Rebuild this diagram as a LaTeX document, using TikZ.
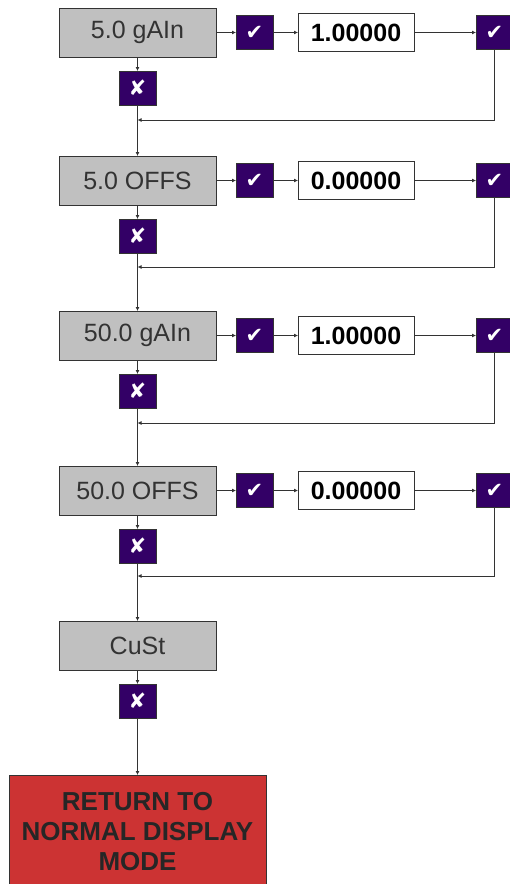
\documentclass[tikz,border=0pt]{standalone}
\usepackage{fontspec}
\setmainfont{Liberation Sans}
\newfontfamily\symfont{DejaVu Sans}
\usetikzlibrary{positioning, arrows.meta}
\definecolor{btn}{HTML}{330066}
\definecolor{lcd}{HTML}{C0C0C0}
\definecolor{edge}{HTML}{333333}
\definecolor{alert}{HTML}{CC3333}

\begin{document}
\begin{tikzpicture}[
    gt/.style={rectangle, draw=edge, line width=1pt, outer sep=0pt, fill=lcd, minimum width=157pt, minimum height=49pt, inner sep=0pt, text=edge, font=\fontsize{25}{29}\selectfont},
    key/.style={rectangle, draw=edge, line width=1pt, outer sep=0pt, fill=btn, minimum width=37pt, minimum height=34pt, inner sep=0pt, text=white, font=\symfont\fontsize{21}{21}\selectfont},
    val/.style={rectangle, draw=edge, line width=1pt, outer sep=0pt, fill=white, minimum width=116pt, minimum height=38pt, inner sep=0pt, font=\bfseries\fontsize{25}{29}\selectfont},
    ret/.style={rectangle, draw=edge, line width=1pt, outer sep=0pt, fill=alert, minimum width=257pt, minimum height=113pt, inner sep=0pt, align=center, text=black!85, font=\bfseries\fontsize{26}{30}\selectfont},
    arr/.style={draw=edge, line width=1pt, -{Latex[length=4pt,width=4pt]}},
    ]
    \useasboundingbox (0,0) rectangle (509pt,-884pt);
    % Row 1: 5.0 gain
    \node[gt] (g1) at (137.5pt,-32.5pt) {5.0 gAIn};
    \node[key, right=20pt of g1] (k1) {✔};
    \node[val, right=25pt of k1] (v1) {1.00000};
    \node[key, right=62pt of v1] (e1) {✔};
    \node[key, below=14pt of g1] (x1) {✘};
    \coordinate[below=15pt of x1] (j1);
    % Row 2: 5.0 offset
    \node[gt, below=51pt of x1] (g2) {5.0 OFFS};
    \node[key, right=20pt of g2] (k2) {✔};
    \node[val, right=25pt of k2] (v2) {0.00000};
    \node[key, right=62pt of v2] (e2) {✔};
    \node[key, below=14pt of g2] (x2) {✘};
    \coordinate[below=14pt of x2] (j2);
    % Row 3: 50.0 gain
    \node[gt, below=58pt of x2] (g3) {50.0 gAIn};
    \node[key, right=20pt of g3] (k3) {✔};
    \node[val, right=25pt of k3] (v3) {1.00000};
    \node[key, right=62pt of v3] (e3) {✔};
    \node[key, below=14pt of g3] (x3) {✘};
    \coordinate[below=15pt of x3] (j3);
    % Row 4: 50.0 offset
    \node[gt, below=58pt of x3] (g4) {50.0 OFFS};
    \node[key, right=20pt of g4] (k4) {✔};
    \node[val, right=25pt of k4] (v4) {0.00000};
    \node[key, right=62pt of v4] (e4) {✔};
    \node[key, below=14pt of g4] (x4) {✘};
    \coordinate[below=13pt of x4] (j4);
    % Custom and exit
    \node[gt, below=58pt of x4] (g5) {CuSt};
    \node[key, below=14pt of g5] (x5) {✘};
    \node[ret, below=57pt of x5] (done) {RETURN TO\\NORMAL DISPLAY\\MODE};

    % Row 1 edges
    \draw[arr] (g1) -- (k1);
    \draw[arr] (k1) -- (v1);
    \draw[arr] (v1) -- (e1);
    \draw[arr] (g1) -- (x1);
    \draw[arr] (e1) |- (j1);
    \draw[arr] (x1) -- (g2);
    % Row 2 edges
    \draw[arr] (g2) -- (k2);
    \draw[arr] (k2) -- (v2);
    \draw[arr] (v2) -- (e2);
    \draw[arr] (g2) -- (x2);
    \draw[arr] (e2) |- (j2);
    \draw[arr] (x2) -- (g3);
    % Row 3 edges
    \draw[arr] (g3) -- (k3);
    \draw[arr] (k3) -- (v3);
    \draw[arr] (v3) -- (e3);
    \draw[arr] (g3) -- (x3);
    \draw[arr] (e3) |- (j3);
    \draw[arr] (x3) -- (g4);
    % Row 4 edges
    \draw[arr] (g4) -- (k4);
    \draw[arr] (k4) -- (v4);
    \draw[arr] (v4) -- (e4);
    \draw[arr] (g4) -- (x4);
    \draw[arr] (e4) |- (j4);
    \draw[arr] (x4) -- (g5);
    % Exit edges
    \draw[arr] (g5) -- (x5);
    \draw[arr] (x5) -- (done);
\end{tikzpicture}
\end{document}
